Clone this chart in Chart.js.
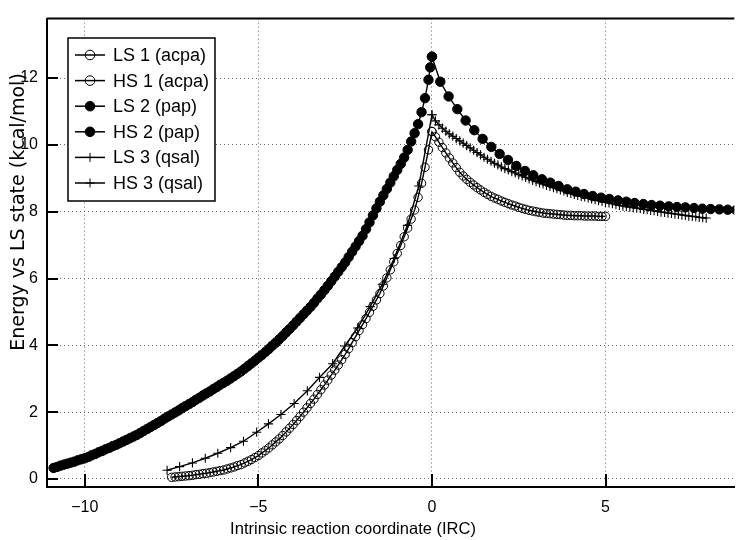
<!DOCTYPE html>
<html>
<head>
<meta charset="utf-8">
<script src="https://cdn.jsdelivr.net/npm/chart.js@4.4.0/dist/chart.umd.min.js"></script>
<style>
  html, body { margin:0; padding:0; background:#fff; }
</style>
</head>
<body>
<canvas id="chart" width="740" height="540"></canvas>
<script>
// ── Data ──────────────────────────────────────────────────────────────
const X_TICKS = [-10, -5, 0, 5];
const Y_TICKS = [0, 2, 4, 6, 8, 10, 12];

// 1 (acpa) — open circles
const acpaLsX = [-7.5,
  -7.4,-7.3,-7.2,-7.1,-7.0,-6.9,-6.8,-6.7,-6.6,-6.5,
  -6.4,-6.3,-6.2,-6.1,-6.0,-5.9,-5.8,-5.7,-5.6,-5.5,
  -5.4,-5.3,-5.2,-5.1,-5.0,-4.9,-4.8,-4.7,-4.6,-4.5,
  -4.4,-4.3,-4.2,-4.1,-4.0,-3.9,-3.8,-3.7,-3.6,-3.5,
  -3.4,-3.3,-3.2,-3.1,-3.0,-2.9,-2.8,-2.7,-2.6,-2.5,
  -2.4,-2.3,-2.2,-2.1,-2.0,-1.9,-1.8,-1.7,-1.6,-1.5,
  -1.4,-1.3,-1.2,-1.1,-1.0,-0.9,-0.8,-0.7,-0.6,-0.5,
  -0.4,-0.3,-0.2,-0.1,0];
const acpaLsY = [0.05,
  0.06,0.07,0.08,0.09,0.10,0.11,0.13,0.14,0.16,0.17,
  0.19,0.21,0.23,0.25,0.27,0.30,0.33,0.36,0.40,0.43,
  0.48,0.53,0.58,0.64,0.70,0.78,0.85,0.93,1.02,1.11,
  1.20,1.30,1.41,1.52,1.63,1.75,1.87,2.00,2.13,2.26,
  2.39,2.53,2.67,2.81,2.96,3.11,3.26,3.41,3.57,3.73,
  3.90,4.08,4.26,4.44,4.62,4.80,4.99,5.17,5.36,5.55,
  5.78,6.02,6.26,6.50,6.75,6.99,7.25,7.51,7.78,8.05,
  8.43,8.85,9.33,9.85,10.40];
const acpaHsX = [
  0,0.1,0.2,0.3,0.4,0.5,0.6,0.7,0.8,0.9,
  1.0,1.1,1.2,1.3,1.4,1.5,1.6,1.7,1.8,1.9,
  2.0,2.1,2.2,2.3,2.4,2.5,2.6,2.7,2.8,2.9,
  3.0,3.1,3.2,3.3,3.4,3.5,3.6,3.7,3.8,3.9,
  4.0,4.1,4.2,4.3,4.4,4.5,4.6,4.7,4.8,4.9,
  5.0];
const acpaHsY = [
  10.40,10.24,10.08,9.92,9.76,9.61,9.46,9.32,9.18,9.07,
  8.97,8.88,8.80,8.72,8.65,8.58,8.52,8.46,8.41,8.37,
  8.32,8.28,8.24,8.20,8.17,8.13,8.10,8.07,8.04,8.02,
  8.00,7.98,7.96,7.95,7.94,7.93,7.92,7.91,7.90,7.89,
  7.89,7.88,7.88,7.88,7.87,7.87,7.87,7.87,7.86,7.86,
  7.86];

// 2 (pap) — filled circles
const papLsX = [
  -10.9,-10.8,-10.7,-10.6,-10.5,-10.4,-10.3,-10.2,-10.1,-10.0,
  -9.9,-9.8,-9.7,-9.6,-9.5,-9.4,-9.3,-9.2,-9.1,-9.0,
  -8.9,-8.8,-8.7,-8.6,-8.5,-8.4,-8.3,-8.2,-8.1,-8.0,
  -7.9,-7.8,-7.7,-7.6,-7.5,-7.4,-7.3,-7.2,-7.1,-7.0,
  -6.9,-6.8,-6.7,-6.6,-6.5,-6.4,-6.3,-6.2,-6.1,-6.0,
  -5.9,-5.8,-5.7,-5.6,-5.5,-5.4,-5.3,-5.2,-5.1,-5.0,
  -4.9,-4.8,-4.7,-4.6,-4.5,-4.4,-4.3,-4.2,-4.1,-4.0,
  -3.9,-3.8,-3.7,-3.6,-3.5,-3.4,-3.3,-3.2,-3.1,-3.0,
  -2.9,-2.8,-2.7,-2.6,-2.5,-2.4,-2.3,-2.2,-2.1,-2.0,
  -1.9,-1.8,-1.7,-1.6,-1.5,-1.4,-1.3,-1.2,-1.1,-1.0,
  -0.9,-0.8,-0.7,-0.6,-0.5,-0.4,-0.3,-0.2,-0.1,-0.05,0];
const papLsY = [
  0.33,0.36,0.40,0.43,0.46,0.49,0.52,0.56,0.59,0.62,
  0.66,0.71,0.75,0.80,0.84,0.89,0.93,0.98,1.02,1.07,
  1.12,1.17,1.22,1.27,1.32,1.38,1.44,1.50,1.56,1.62,
  1.68,1.74,1.81,1.87,1.93,1.99,2.05,2.12,2.18,2.24,
  2.30,2.37,2.43,2.50,2.56,2.62,2.69,2.75,2.82,2.88,
  2.94,3.01,3.08,3.15,3.22,3.30,3.38,3.46,3.54,3.63,
  3.71,3.80,3.89,3.99,4.08,4.18,4.28,4.39,4.49,4.60,
  4.71,4.82,4.93,5.04,5.15,5.27,5.40,5.52,5.65,5.78,
  5.92,6.06,6.20,6.34,6.48,6.64,6.80,6.96,7.12,7.28,
  7.48,7.68,7.89,8.10,8.30,8.49,8.68,8.87,9.06,9.25,
  9.43,9.62,9.85,10.10,10.35,10.62,10.98,11.40,11.95,12.32,12.64];
const papHsX = [
  0,0.24,0.48,0.73,0.97,1.22,1.46,1.71,1.95,2.19,
  2.43,2.68,2.92,3.17,3.41,3.65,3.90,4.14,4.38,4.63,
  4.87,5.11,5.36,5.60,5.84,6.09,6.33,6.57,6.82,7.06,
  7.30,7.55,7.79,8.03,8.28,8.52,8.76,9.01];
const papHsY = [
  12.64,11.89,11.45,11.07,10.73,10.44,10.18,9.94,9.73,9.55,
  9.37,9.22,9.09,8.97,8.87,8.77,8.67,8.60,8.53,8.47,
  8.42,8.38,8.34,8.30,8.26,8.23,8.20,8.18,8.16,8.14,
  8.13,8.11,8.09,8.08,8.07,8.06,8.05,8.04];

// 3 (qsal) — crosses
const qsalLsX = [-7.63,-7.27,-6.90,-6.53,-6.17,-5.80,-5.43,-5.05,-4.71,-4.35,
  -3.97,-3.59,-3.24,-2.86,-2.51,-2.14,-1.78,-1.43,-1.09,-0.71,-0.38,0];
const qsalLsY = [0.26,0.37,0.48,0.62,0.77,0.94,1.13,1.40,1.65,1.93,
  2.26,2.64,3.04,3.45,3.98,4.52,5.16,5.83,6.60,7.59,8.77,10.90];
const qsalHsX = [
  0,0.1,0.2,0.3,0.4,0.5,0.6,0.7,0.8,0.9,
  1.0,1.1,1.2,1.3,1.4,1.5,1.6,1.7,1.8,1.9,
  2.0,2.1,2.2,2.3,2.4,2.5,2.6,2.7,2.8,2.9,
  3.0,3.1,3.2,3.3,3.4,3.5,3.6,3.7,3.8,3.9,
  4.0,4.1,4.2,4.3,4.4,4.5,4.6,4.7,4.8,4.9,
  5.0,5.1,5.2,5.3,5.4,5.5,5.6,5.7,5.8,5.9,
  6.0,6.1,6.2,6.3,6.4,6.5,6.6,6.7,6.8,6.9,
  7.0,7.1,7.2,7.3,7.4,7.5,7.6,7.7,7.8,7.9];
const qsalHsY = [
  10.90,10.72,10.60,10.50,10.41,10.33,10.26,10.19,10.12,10.05,
  9.98,9.91,9.84,9.77,9.70,9.63,9.57,9.51,9.45,9.40,
  9.34,9.29,9.25,9.20,9.16,9.11,9.07,9.03,8.98,8.94,
  8.90,8.86,8.83,8.79,8.76,8.72,8.69,8.65,8.62,8.58,
  8.55,8.52,8.49,8.46,8.44,8.41,8.38,8.36,8.33,8.31,
  8.28,8.26,8.24,8.21,8.19,8.17,8.15,8.14,8.12,8.11,
  8.09,8.07,8.06,8.04,8.03,8.01,7.99,7.98,7.96,7.95,
  7.93,7.92,7.90,7.89,7.87,7.86,7.85,7.83,7.82,7.81];

// ── Helpers ───────────────────────────────────────────────────────────
const FONT = "'Liberation Sans', Arial, sans-serif";

function pts(xs, ys) {
    return xs.map((x, i) => ({ x, y: ys[i] }));
}

const MARK = {
    acpa: { pointStyle:'circle', pointRadius:4.2, pointBackgroundColor:'rgba(0,0,0,0)', pointBorderWidth:1 },
    pap:  { pointStyle:'circle', pointRadius:4.7, pointBackgroundColor:'#000',          pointBorderWidth:1 },
    qsal: { pointStyle:'cross',  pointRadius:4.6, pointBackgroundColor:'#000',          pointBorderWidth:1.1 },
};

function series(label, xs, ys, mark) {
    return Object.assign({
        label,
        data: pts(xs, ys),
        showLine: true,
        borderColor: '#000',
        borderWidth: 1.4,
        pointBorderColor: '#000',
        pointHoverRadius: 0,
        tension: 0,
    }, MARK[mark]);
}

// ── Frame, inward ticks, axis titles, legend ─────────────────────────
const decor = {
    id: 'decor',
    afterDraw(chart) {
        const { ctx, chartArea: a, scales: { x, y } } = chart;
        ctx.save();
        ctx.strokeStyle = '#000';
        ctx.lineWidth = 2;

        ctx.beginPath();
        ctx.moveTo(a.left, a.top); ctx.lineTo(a.right, a.top);
        Y_TICKS.forEach(v => {
            const py = Math.round(y.getPixelForValue(v));
            ctx.moveTo(a.left, py); ctx.lineTo(a.left + 11, py);
        });
        X_TICKS.forEach(v => {
            const px = Math.round(x.getPixelForValue(v));
            ctx.moveTo(px, a.bottom); ctx.lineTo(px, a.bottom - 13);
        });
        ctx.stroke();

        // axis titles
        ctx.fillStyle = '#000';
        ctx.textAlign = 'center';
        ctx.textBaseline = 'middle';
        ctx.font = `16.5px ${FONT}`;
        ctx.fillText('Intrinsic reaction coordinate (IRC)', 353, 529);

        ctx.save();
        ctx.translate(19, 212);
        ctx.rotate(-Math.PI / 2);
        ctx.font = "19px 'DejaVu Sans', sans-serif";
        ctx.fillText('Energy vs LS state (kcal/mol)', 0, 0);
        ctx.restore();

        // legend box
        const bx = 68, by = 38, bw = 147, bh = 163;
        ctx.fillStyle = '#fff';
        ctx.fillRect(bx, by, bw, bh);
        ctx.lineWidth = 1.5;
        ctx.strokeRect(bx, by, bw, bh);

        ctx.font = `18px ${FONT}`;
        ctx.textAlign = 'left';
        chart.data.datasets.forEach((ds, i) => {
            const ry = 55 + i * 25.6;
            ctx.lineWidth = 1.5;
            ctx.strokeStyle = '#000';
            ctx.beginPath(); ctx.moveTo(75, ry); ctx.lineTo(105, ry); ctx.stroke();
            ctx.fillStyle = ds.pointBackgroundColor;
            ctx.lineWidth = 1;
            Chart.helpers.drawPoint(ctx, {
                pointStyle: ds.pointStyle,
                radius: ds.pointStyle === 'cross' ? 4.5 : 4.8,
                borderWidth: 1,
                rotation: 0,
            }, 90, ry);
            ctx.fillStyle = '#000';
            ctx.fillText(ds.label, 113, ry + 1);
        });
        ctx.restore();
    }
};

// ── Chart ─────────────────────────────────────────────────────────────
const tickLabel = v => String(v).replace('-', '\u2212');

new Chart(document.getElementById('chart'), {
    type: 'scatter',
    data: {
        datasets: [
            series('LS 1 (acpa)', acpaLsX, acpaLsY, 'acpa'),
            series('HS 1 (acpa)', acpaHsX, acpaHsY, 'acpa'),
            series('LS 2 (pap)',  papLsX,  papLsY,  'pap'),
            series('HS 2 (pap)',  papHsX,  papHsY,  'pap'),
            series('LS 3 (qsal)', qsalLsX, qsalLsY, 'qsal'),
            series('HS 3 (qsal)', qsalHsX, qsalHsY, 'qsal'),
        ]
    },
    options: {
        responsive: false,
        animation: false,
        layout: { padding: { top:15, right:0, left:0, bottom:0 } },
        plugins: { legend:{ display:false }, tooltip:{ enabled:false } },
        scales: {
            x: {
                type: 'linear', min: -11.09, max: 8.71,
                afterFit: s => { s.height = 53; },
                afterBuildTicks: s => { s.ticks = X_TICKS.map(v => ({ value: v })); },
                ticks: { font:{ family:FONT, size:16 }, color:'#000', padding:11, callback: tickLabel },
                grid:  { color:'#666', lineWidth:1, drawTicks:false },
                border:{ display:true, color:'#000', width:2, dash:[1,3] },
            },
            y: {
                type: 'linear', min: -0.24, max: 13.78,
                afterFit: s => { s.width = 47; },
                afterBuildTicks: s => { s.ticks = Y_TICKS.map(v => ({ value: v })); },
                ticks: { font:{ family:FONT, size:16 }, color:'#000', padding:9, callback: tickLabel },
                grid:  { color:'#666', lineWidth:1, drawTicks:false },
                border:{ display:true, color:'#000', width:2, dash:[1,3] },
            }
        }
    },
    plugins: [decor]
});
</script>
</body>
</html>
